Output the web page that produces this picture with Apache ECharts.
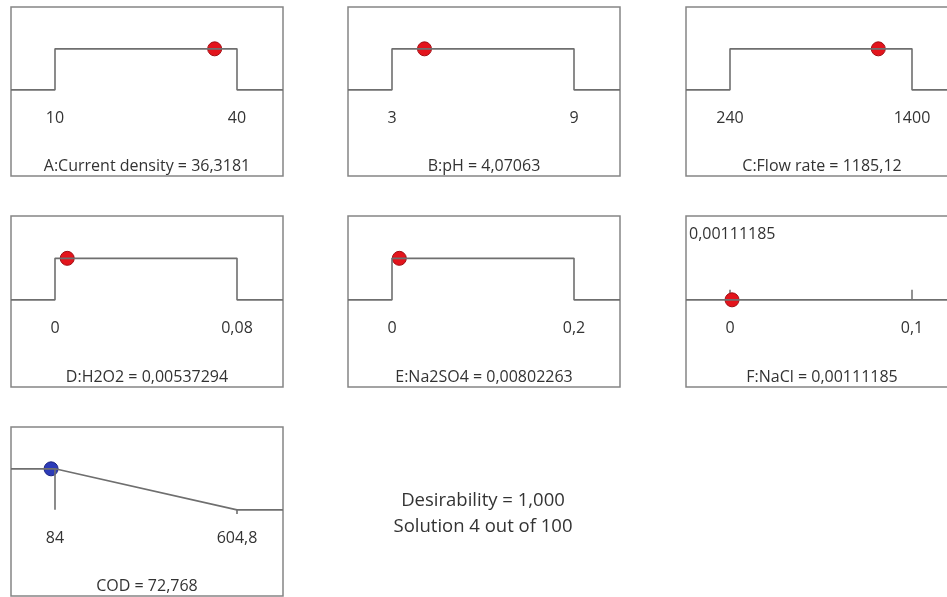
<!DOCTYPE html>
<html>
<head>
<meta charset="utf-8">
<script src="https://cdn.jsdelivr.net/npm/echarts@6/dist/echarts.min.js"></script>
<style>
  html, body { margin: 0; padding: 0; background: #fff; }
  #chart { width: 947px; height: 597px; }
</style>
</head>
<body>
<div id="chart"></div>
<script>
// Factor ramps of the optimisation solution
const factorNames = ['A:Current density', 'B:pH', 'C:Flow rate', 'D:H2O2', 'E:Na2SO4', 'F:NaCl'];
const factorLow = [10, 3, 240, 0, 0, 0];
const factorHigh = [40, 9, 1400, 0.08, 0.2, 0.1];
const factorValue = [36.3181, 4.07063, 1185.12, 0.00537294, 0.00802263, 0.00111185];
// 'range' = desirable inside the limits, 'none' = not constrained
const factorGoal = ['range', 'range', 'range', 'range', 'range', 'none'];

// Response ramp (minimise)
const responseName = 'COD';
const responseLow = 84;
const responseHigh = 604.8;
const responseValue = 72.768;

// Solution summary
const desirability = 1.000;
const solutionIndex = 4;
const solutionCount = 100;

// ---- layout -------------------------------------------------------------
const colLeft = [11, 348, 686];
const rowTop = [7, 216, 427];
const rowH = [169, 171, 169];
const boxW = 272;
const padL = 44 / 182, padR = 46 / 182;       // space outside the limits
const yMin = -2.1, yMax = 2.02;              // desirability axis, 0..1 in the middle
const lineColor = '#6f6f6f';
const textColor = '#333333';
const fontFamily = '"Open Sans", "Noto Sans", sans-serif';
const fontSize = 16;

const fmt = v => String(v).replace('.', ',');
const bounds = (lo, hi) => { const r = hi - lo; return [lo - r * padL, hi + r * padR]; };

const grids = [], xAxes = [], yAxes = [], series = [];

function addPanel(idx, row, col, lo, hi, title, withTicks) {
  const [mn, mx] = bounds(lo, hi);
  const h = rowH[row];
  // lift the x axis up to desirability 0
  const zeroOffset = h * (0 - yMin) / (yMax - yMin);
  grids.push({
    left: colLeft[col], top: rowTop[row], width: boxW, height: h,
    outerBoundsMode: 'none', containLabel: false,
    show: true, borderColor: '#858585', borderWidth: 1.5, backgroundColor: 'transparent'
  });
  xAxes.push({
    gridIndex: idx, type: 'value', min: mn, max: mx,
    position: 'bottom', offset: -zeroOffset,
    axisLine: { show: false, onZero: false },
    splitLine: { show: false },
    axisTick: withTicks
      ? { show: true, inside: true, length: 10, customValues: [lo, hi], lineStyle: { color: lineColor, width: 1.5 } }
      : { show: false },
    axisLabel: {
      customValues: [lo, hi], margin: 21, formatter: v => fmt(v),
      color: textColor, fontSize: fontSize, fontFamily: fontFamily
    },
    // panel caption sits just above the bottom edge of the box
    name: title, nameLocation: 'middle', nameGap: h - zeroOffset - 14,
    nameTextStyle: { color: textColor, fontSize: fontSize, fontFamily: fontFamily }
  });
  yAxes.push({
    gridIndex: idx, type: 'value', min: yMin, max: yMax, show: false
  });
  return [mn, mx];
}

const lineBase = {
  type: 'line', symbol: 'none', silent: true, animation: false,
  lineStyle: { color: lineColor, width: 1.6 }
};

// factor panels
factorNames.forEach((name, i) => {
  const row = Math.floor(i / 3), col = i % 3;
  const lo = factorLow[i], hi = factorHigh[i], v = factorValue[i];
  const none = factorGoal[i] === 'none';
  const [mn, mx] = addPanel(i, row, col, lo, hi, name + ' = ' + fmt(v), none);
  const path = none
    ? [[mn, 0], [mx, 0]]
    : [[mn, 0], [lo, 0], [lo, 1], [hi, 1], [hi, 0], [mx, 0]];
  series.push(Object.assign({}, lineBase, { xAxisIndex: i, yAxisIndex: i, data: path }));
  series.push({
    type: 'scatter', xAxisIndex: i, yAxisIndex: i, animation: false,
    symbolSize: 14, data: [[v, none ? 0 : 1]],
    itemStyle: { color: '#e3141c', borderColor: '#a10c12', borderWidth: 1, opacity: 1 }
  });
});

// response panel
{
  const i = 6;
  const [mn, mx] = addPanel(i, 2, 0, responseLow, responseHigh, responseName + ' = ' + fmt(responseValue), false);
  series.push(Object.assign({}, lineBase, {
    xAxisIndex: i, yAxisIndex: i,
    data: [[mn, 1], [responseLow, 1], [responseHigh, 0], [mx, 0]]
  }));
  series.push(Object.assign({}, lineBase, {
    xAxisIndex: i, yAxisIndex: i, data: [[responseLow, 1], [responseLow, 0]]
  }));
  series.push(Object.assign({}, lineBase, {
    xAxisIndex: i, yAxisIndex: i, data: [[responseHigh, 0], [responseHigh, -0.1]]
  }));
  series.push({
    type: 'scatter', xAxisIndex: i, yAxisIndex: i, animation: false,
    symbolSize: 14, data: [[responseValue, 1]],
    itemStyle: { color: '#2c3bb8', borderColor: '#1b2380', borderWidth: 1, opacity: 1 }
  });
}

const fIdx = factorGoal.indexOf('none');

const chart = echarts.init(document.getElementById('chart'), null, { renderer: 'canvas' });
chart.setOption({
  animation: false,
  backgroundColor: '#ffffff',
  grid: grids,
  xAxis: xAxes,
  yAxis: yAxes,
  series: series,
  graphic: [
    {
      type: 'text', left: colLeft[fIdx % 3] + 3, top: rowTop[Math.floor(fIdx / 3)] + 10,
      style: { text: fmt(factorValue[fIdx]), fill: textColor, font: fontSize + 'px ' + fontFamily }
    },
    {
      type: 'text', x: 483, y: 501,
      style: {
        text: 'Desirability = ' + desirability.toFixed(3).replace('.', ','),
        fill: textColor, font: '18.5px ' + fontFamily, align: 'center', verticalAlign: 'middle'
      }
    },
    {
      type: 'text', x: 483, y: 527,
      style: {
        text: 'Solution ' + solutionIndex + ' out of ' + solutionCount,
        fill: textColor, font: '18.5px ' + fontFamily, align: 'center', verticalAlign: 'middle'
      }
    }
  ]
});
</script>
</body>
</html>
